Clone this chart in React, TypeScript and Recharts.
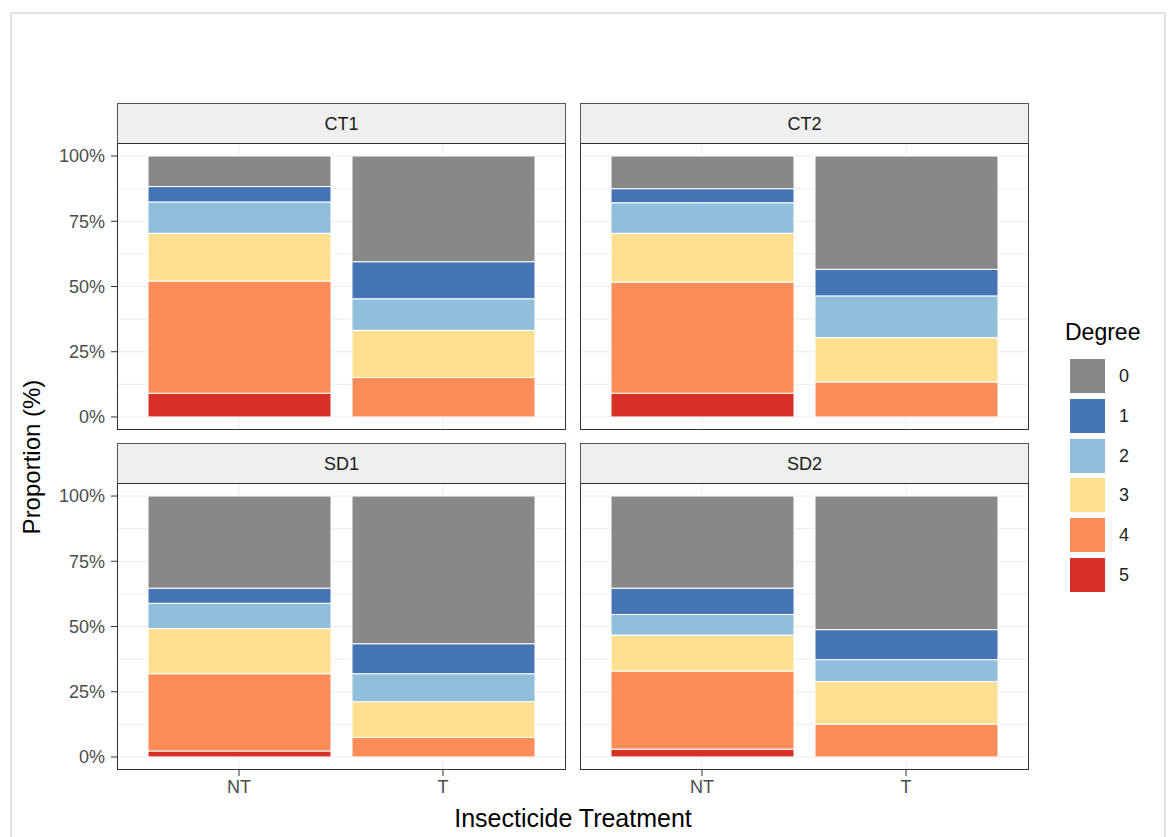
import { BarChart, Bar, XAxis, YAxis, CartesianGrid } from 'recharts';

const FONT = '"Liberation Sans", Arial, Helvetica, sans-serif';

const TREATMENTS = ['NT', 'T'];
const DEGREES = ['0', '1', '2', '3', '4', '5'];
const DEGREE_COLORS = ['#888888', '#4575b4', '#91bfdb', '#fee090', '#fc8d59', '#d73027'];
const Y_TICKS = [0, 25, 50, 75, 100];
const GRID_VALUES = [0, 12.5, 25, 37.5, 50, 62.5, 75, 87.5, 100];

// proportion (%) per degree 0..5
const CT1_NT = [11.7, 5.9, 12.0, 18.3, 43.0, 9.1];
const CT1_T = [40.5, 14.2, 12.1, 18.1, 15.1, 0];
const CT2_NT = [12.5, 5.4, 11.7, 18.7, 42.6, 9.1];
const CT2_T = [43.4, 10.2, 16.0, 17.0, 13.4, 0];
const SD1_NT = [35.3, 5.8, 9.7, 17.3, 29.6, 2.3];
const SD1_T = [56.6, 11.5, 10.7, 13.7, 7.5, 0];
const SD2_NT = [35.3, 10.1, 7.9, 13.8, 29.9, 3.0];
const SD2_T = [51.2, 11.5, 8.4, 16.3, 12.6, 0];

function buildRows(nt: number[], t: number[]) {
  return [nt, t].map((vals, i) => {
    const row: Record<string, string | number> = { trt: TREATMENTS[i] };
    DEGREES.forEach((d, j) => {
      row['d' + d] = vals[j];
    });
    return row;
  });
}

const PANEL_W = 449;
const PANEL_H = 287;
const STRIP_H = 40;
const Y_AXIS_W = 70;
const X_AXIS_H = 40;

interface PanelProps {
  title: string;
  rows: Record<string, string | number>[];
  left: number;
  top: number;
  showY: boolean;
  showX: boolean;
}

function Panel({ title, rows, left, top, showY, showX }: PanelProps) {
  const yw = showY ? Y_AXIS_W : 0;
  const xh = showX ? X_AXIS_H : 0;
  return (
    <>
      <div
        style={{
          position: 'absolute',
          left,
          top: top - STRIP_H,
          width: PANEL_W,
          height: STRIP_H,
          boxSizing: 'border-box',
          background: '#efefef',
          border: '1px solid #555',
          borderBottom: 'none',
          textAlign: 'center',
          lineHeight: STRIP_H + 'px',
          fontSize: 18,
          color: '#1a1a1a',
        }}
      >
        {title}
      </div>
      <div style={{ position: 'absolute', left: left - yw, top }}>
        <BarChart
          width={PANEL_W + yw}
          height={PANEL_H + xh}
          data={rows}
          margin={{ top: 0, right: 0, bottom: 0, left: 0 }}
          barSize={183}
        >
          <CartesianGrid stroke="#ebebeb" horizontalValues={GRID_VALUES} />
          <XAxis
            dataKey="trt"
            hide={!showX}
            height={xh}
            padding={{ left: 20, right: 21 }}
            axisLine={false}
            tickLine={{ stroke: '#333' }}
            tickSize={6}
            tickMargin={4}
            tick={{ fill: '#4d4d4d', fontSize: 18, fontFamily: FONT }}
          />
          <YAxis
            type="number"
            domain={[-5, 105]}
            allowDataOverflow
            ticks={Y_TICKS}
            hide={!showY}
            width={yw}
            axisLine={false}
            tickLine={{ stroke: '#333' }}
            tickSize={6}
            tickMargin={6}
            tickFormatter={(v) => `${v}%`}
            tick={{ fill: '#4d4d4d', fontSize: 18, fontFamily: FONT }}
          />
          {[5, 4, 3, 2, 1, 0].map((i) => (
            <Bar
              key={i}
              dataKey={'d' + i}
              stackId="deg"
              fill={DEGREE_COLORS[i]}
              stroke="#ffffff"
              strokeWidth={1}
              isAnimationActive={false}
            />
          ))}
        </BarChart>
      </div>
      <div
        style={{
          position: 'absolute',
          left,
          top,
          width: PANEL_W,
          height: PANEL_H,
          boxSizing: 'border-box',
          border: '1.5px solid #333',
          pointerEvents: 'none',
        }}
      />
    </>
  );
}

export default function App() {
  return (
    <div
      style={{
        position: 'relative',
        width: 1173,
        height: 837,
        overflow: 'hidden',
        background: '#fff',
        fontFamily: FONT,
      }}
    >
      <style>{'body{margin:0}'}</style>
      {/* outer frame */}
      <div
        style={{
          position: 'absolute',
          left: 10,
          top: 12,
          width: 1156,
          height: 840,
          boxSizing: 'border-box',
          border: '2px solid #e2e2e2',
        }}
      />

      <Panel title="CT1" rows={buildRows(CT1_NT, CT1_T)} left={117} top={143} showY showX={false} />
      <Panel title="CT2" rows={buildRows(CT2_NT, CT2_T)} left={580} top={143} showY={false} showX={false} />
      <Panel title="SD1" rows={buildRows(SD1_NT, SD1_T)} left={117} top={483} showY showX />
      <Panel title="SD2" rows={buildRows(SD2_NT, SD2_T)} left={580} top={483} showY={false} showX />

      {/* axis titles */}
      <div
        style={{
          position: 'absolute',
          left: 32 - 150,
          top: 457 - 15,
          width: 300,
          height: 30,
          lineHeight: '30px',
          textAlign: 'center',
          fontSize: 24,
          color: '#000',
          transform: 'rotate(-90deg)',
        }}
      >
        Proportion (%)
      </div>
      <div
        style={{
          position: 'absolute',
          left: 573 - 200,
          top: 818 - 15,
          width: 400,
          height: 30,
          lineHeight: '30px',
          textAlign: 'center',
          fontSize: 25,
          color: '#000',
        }}
      >
        Insecticide Treatment
      </div>

      {/* legend */}
      <div style={{ position: 'absolute', left: 1065, top: 319, fontSize: 23, color: '#000' }}>Degree</div>
      {DEGREES.map((d, i) => (
        <div key={d} style={{ position: 'absolute', left: 1070, top: 359 + i * 39.8 }}>
          <div style={{ width: 35, height: 34, background: DEGREE_COLORS[i] }} />
          <div
            style={{
              position: 'absolute',
              left: 49,
              top: 0,
              height: 34,
              lineHeight: '34px',
              fontSize: 18,
              color: '#222',
            }}
          >
            {d}
          </div>
        </div>
      ))}
    </div>
  );
}
